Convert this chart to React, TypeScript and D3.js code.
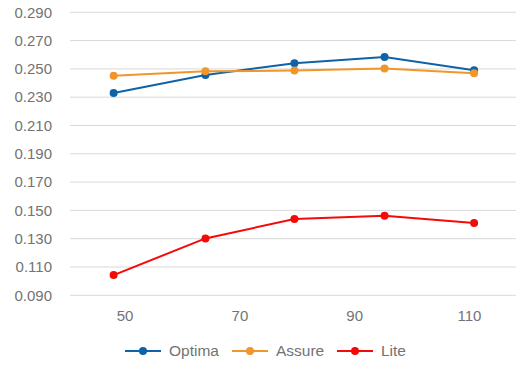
import React from "react";
import * as d3 from "d3";

const xValues = [48, 64, 79.5, 95.2, 110.8];
const optima = [0.233, 0.2457, 0.254, 0.2584, 0.249];
const assure = [0.2452, 0.2483, 0.2488, 0.2502, 0.2469];
const lite = [0.1043, 0.1302, 0.1439, 0.1462, 0.1411];
const yTicks = [0.09, 0.11, 0.13, 0.15, 0.17, 0.19, 0.21, 0.23, 0.25, 0.27, 0.29];
const xTicks = [50, 70, 90, 110];
const seriesNames = ["Optima", "Assure", "Lite"];
const seriesColors = ["#0e63a8", "#f0962a", "#f50a0a"];

export default function App() {
  const W = 516, H = 365;
  const x = d3.scaleLinear().domain([40.4, 118.1]).range([70, 516]);
  const y = d3.scaleLinear().domain([0.09, 0.29]).range([295.3, 12.3]);
  const series = [optima, assure, lite];
  const line = d3.line<number>().x((_, i) => x(xValues[i])).y((d) => y(d));
  const legendX = [125, 232, 337];
  const font = "'Liberation Sans', Arial, Helvetica, sans-serif";
  return (
    <svg width={W} height={H} style={{ position: "absolute", left: 0, top: 0 }} fontFamily={font}>
      {yTicks.map((t) => (
        <g key={t}>
          <line x1={70} x2={516} y1={y(t)} y2={y(t)} stroke="#d9d9d9" strokeWidth={1} />
          <text x={52} y={y(t)} dy="0.35em" textAnchor="end" fontSize={15} fill="#737373">
            {t.toFixed(3)}
          </text>
        </g>
      ))}
      {xTicks.map((t) => (
        <text key={t} x={x(t)} y={316} dy="0.35em" textAnchor="middle" fontSize={15} fill="#737373">
          {t}
        </text>
      ))}
      {series.map((s, k) => (
        <g key={k}>
          <path d={line(s) || ""} fill="none" stroke={seriesColors[k]} strokeWidth={2} />
          {s.map((v, i) => (
            <circle key={i} cx={x(xValues[i])} cy={y(v)} r={4} fill={seriesColors[k]} />
          ))}
        </g>
      ))}
      {seriesNames.map((n, k) => (
        <g key={n} transform={`translate(${legendX[k]},351)`}>
          <line x1={0} x2={36} y1={0} y2={0} stroke={seriesColors[k]} strokeWidth={2} />
          <circle cx={18} cy={0} r={4} fill={seriesColors[k]} />
          <text x={44} y={0} dy="0.35em" fontSize={15.5} fill="#737373">
            {n}
          </text>
        </g>
      ))}
    </svg>
  );
}
